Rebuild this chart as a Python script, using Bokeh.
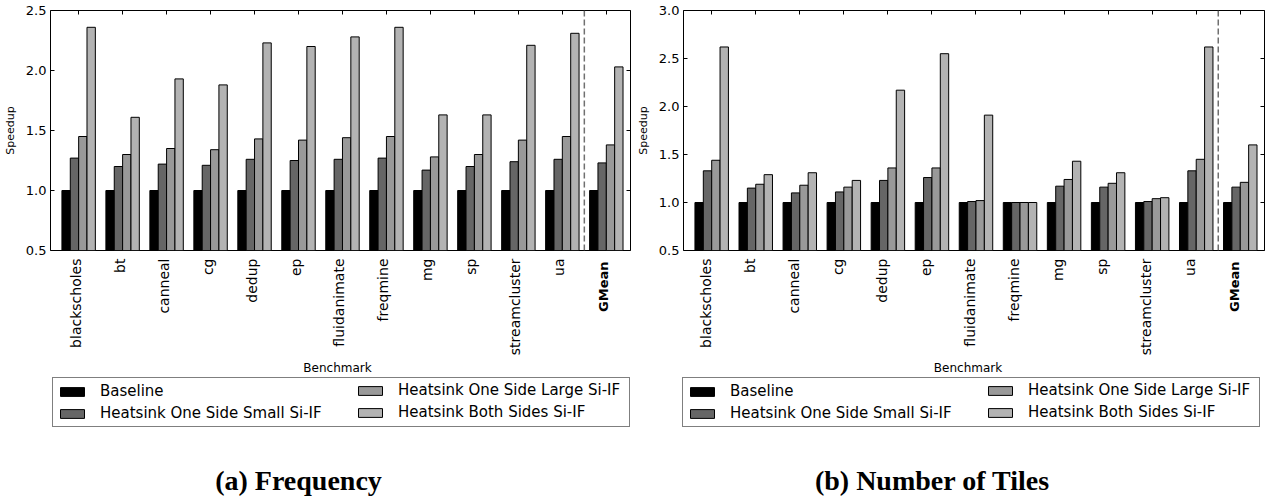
import math
from bokeh.plotting import figure
from bokeh.models import (Range1d, FixedTicker, LinearAxis, Legend, LegendItem,
                          Span, Label, PrintfTickFormatter, ColumnDataSource)
from bokeh.core.properties import value
from bokeh.layouts import row, column
from bokeh.embed import file_html
from bokeh.resources import INLINE

categories = ["blackscholes", "bt", "canneal", "cg", "dedup", "ep", "fluidanimate",
              "freqmine", "mg", "sp", "streamcluster", "ua", "GMean"]
series_names = ["Baseline", "Heatsink One Side Small Si-IF",
                "Heatsink One Side Large Si-IF", "Heatsink Both Sides Si-IF"]

# (a) Frequency
freq_baseline = [1.0, 1.0, 1.0, 1.0, 1.0, 1.0, 1.0, 1.0, 1.0, 1.0, 1.0, 1.0, 1.0]
freq_small = [1.27, 1.20, 1.22, 1.21, 1.26, 1.25, 1.26, 1.27, 1.17, 1.20, 1.24, 1.26, 1.23]
freq_large = [1.45, 1.30, 1.35, 1.34, 1.43, 1.42, 1.44, 1.45, 1.28, 1.30, 1.42, 1.45, 1.38]
freq_both = [2.36, 1.61, 1.93, 1.88, 2.23, 2.20, 2.28, 2.36, 1.63, 1.63, 2.21, 2.31, 2.03]

# (b) Number of Tiles
tiles_baseline = [1.0, 1.0, 1.0, 1.0, 1.0, 1.0, 1.0, 1.0, 1.0, 1.0, 1.0, 1.0, 1.0]
tiles_small = [1.33, 1.15, 1.10, 1.11, 1.23, 1.26, 1.01, 1.00, 1.17, 1.16, 1.01, 1.33, 1.16]
tiles_large = [1.44, 1.19, 1.18, 1.16, 1.36, 1.36, 1.02, 1.00, 1.24, 1.20, 1.04, 1.45, 1.21]
tiles_both = [2.62, 1.29, 1.31, 1.23, 2.17, 2.55, 1.91, 1.00, 1.43, 1.31, 1.05, 2.62, 1.60]

freq_yticks = [0.5, 1.0, 1.5, 2.0, 2.5]
tiles_yticks = [0.5, 1.0, 1.5, 2.0, 2.5, 3.0]

colors = ["#000000", "#666666", "#999999", "#b3b3b3"]
FONT = "DejaVu Sans"
SERIF = "Liberation Serif"

X0, X1 = -0.64, 12.55
BORDER_L = 47
TOP_H = 258          # canvas height of the chart part (frame 10..250)
BOT_H = 238          # canvas height of the label / legend / caption part
BAR_W = 0.19


def top_panel(series, yticks, frame_w, border_right):
    n = len(categories)
    xs = list(range(n))
    ymin, ymax = yticks[0], yticks[-1]
    p = figure(width=BORDER_L + frame_w + border_right, height=TOP_H,
               frame_width=frame_w, frame_height=240,
               x_range=Range1d(X0, X1), y_range=Range1d(ymin, ymax),
               x_axis_location=None, output_backend="svg", toolbar_location=None,
               min_border_left=BORDER_L, min_border_right=border_right,
               min_border_top=10, min_border_bottom=TOP_H - 250)
    p.background_fill_color = "white"
    p.border_fill_color = "white"
    p.outline_line_color = "black"
    p.outline_line_width = 1
    p.grid.visible = False

    offsets = [-1.5 * BAR_W, -0.5 * BAR_W, 0.5 * BAR_W, 1.5 * BAR_W]
    for vals, off, col in zip(series, offsets, colors):
        p.vbar(x=[x + off for x in xs], top=vals, bottom=0, width=BAR_W,
               fill_color=col, line_color="black", line_width=1)

    p.add_layout(Span(location=11.5, dimension="height", line_color="#707070",
                      line_dash="6 3", line_width=1.5))

    ya = p.yaxis[0]
    ya.ticker = FixedTicker(ticks=yticks)
    ya.formatter = PrintfTickFormatter(format="%.1f")
    ya.major_label_text_font = FONT
    ya.major_label_text_font_size = "13px"
    ya.major_label_text_color = "black"
    ya.major_label_standoff = 4
    ya.major_tick_in = 4
    ya.major_tick_out = 0
    ya.major_tick_line_color = "black"
    ya.minor_tick_line_color = None
    ya.axis_line_color = None
    ya.axis_label = "Speedup"
    ya.axis_label_text_font = FONT
    ya.axis_label_text_font_size = "11px"
    ya.axis_label_text_font_style = "normal"
    ya.axis_label_text_color = "black"
    ya.axis_label_standoff = 6

    top = LinearAxis(ticker=FixedTicker(ticks=xs),
                     major_label_overrides={i: "" for i in xs},
                     major_label_text_font_size="6px",
                     major_tick_in=4, major_tick_out=0, minor_tick_line_color=None,
                     axis_line_color=None, major_label_standoff=0,
                     major_tick_line_color="black")
    p.add_layout(top, "above")
    right = LinearAxis(ticker=FixedTicker(ticks=yticks),
                       major_label_overrides={t: "" for t in yticks},
                       major_label_text_font_size="6px",
                       major_tick_in=4, major_tick_out=0, minor_tick_line_color=None,
                       axis_line_color=None, major_label_standoff=0,
                       major_tick_line_color="black")
    p.add_layout(right, "right")
    return p


def bottom_panel(frame_w, border_right, caption, caption_x, legend_x):
    W = BORDER_L + frame_w + border_right
    k = frame_w / (X1 - X0)
    xr0, xr1 = X0 - BORDER_L / k, X1 + border_right / k
    q = figure(width=W, height=BOT_H, frame_width=W, frame_height=BOT_H,
               x_range=Range1d(xr0, xr1), y_range=Range1d(0, BOT_H),
               x_axis_location=None, y_axis_location=None,
               output_backend="svg", toolbar_location=None,
               min_border=0, min_border_left=0, min_border_right=0,
               min_border_top=0, min_border_bottom=0)
    q.background_fill_color = "white"
    q.border_fill_color = "white"
    q.outline_line_color = None
    q.grid.visible = False

    # tick labels of the benchmark axis (GMean in bold)
    styles = ["bold" if c == "GMean" else "normal" for c in categories]
    sizes = ["13px" if c == "GMean" else "14px" for c in categories]
    ys = [BOT_H - 3 if c == "GMean" else BOT_H for c in categories]
    src = ColumnDataSource(dict(x=list(range(len(categories))), y=ys,
                                text=categories, style=styles, size=sizes))
    q.text(x="x", y="y", text="text", source=src, angle=math.pi / 2,
           text_align="right", text_baseline="middle", text_font=value(FONT),
           text_font_size="size", text_font_style="style", text_color="black")

    q.add_layout(Label(x=(X0 + X1) / 2, y=BOT_H - 109, text="Benchmark",
                       text_align="center", text_baseline="middle", text_font=FONT,
                       text_font_size="12px", text_color="black"))

    # legend swatch carriers (one off-canvas bar each, never visible)
    rs = [q.vbar(x=[xr1 + 50], top=[1], bottom=0, width=BAR_W, fill_color=c,
                 line_color="black", line_width=1) for c in colors]
    common = dict(label_text_font=FONT, label_text_font_size="15px",
                  label_text_color="black", glyph_width=30, glyph_height=11,
                  label_standoff=13, label_height=17, spacing=4, padding=4, margin=0,
                  orientation="vertical")
    leg_a = Legend(items=[LegendItem(label=series_names[0], renderers=[rs[0]]),
                          LegendItem(label=series_names[1], renderers=[rs[1]])],
                   location=(legend_x, 69), label_width=525,
                   border_line_color="black", border_line_width=1,
                   background_fill_color="white", background_fill_alpha=1, **common)
    leg_b = Legend(items=[LegendItem(label=series_names[2], renderers=[rs[2]]),
                          LegendItem(label=series_names[3], renderers=[rs[3]])],
                   location=(legend_x + 303, 75), label_width=200,
                   border_line_color=None, background_fill_alpha=0, **common)
    q.add_layout(leg_a)
    q.add_layout(leg_b)

    q.add_layout(Label(x=caption_x, y=16, x_units="screen", y_units="screen",
                       text=caption, text_align="center", text_baseline="middle",
                       text_font=SERIF, text_font_style="bold", text_font_size="28px",
                       text_color="black"))
    return q


p1 = top_panel([freq_baseline, freq_small, freq_large, freq_both], freq_yticks, 580, 3)
p2 = top_panel([tiles_baseline, tiles_small, tiles_large, tiles_both], tiles_yticks, 581, 7)
q1 = bottom_panel(580, 3, "(a) Frequency", 298, 52)
q2 = bottom_panel(581, 7, "(b) Number of Tiles", 302, 52)

layout = column(row(p1, p2), row(q1, q2))
open("out.html", "w").write(file_html(layout, INLINE))
